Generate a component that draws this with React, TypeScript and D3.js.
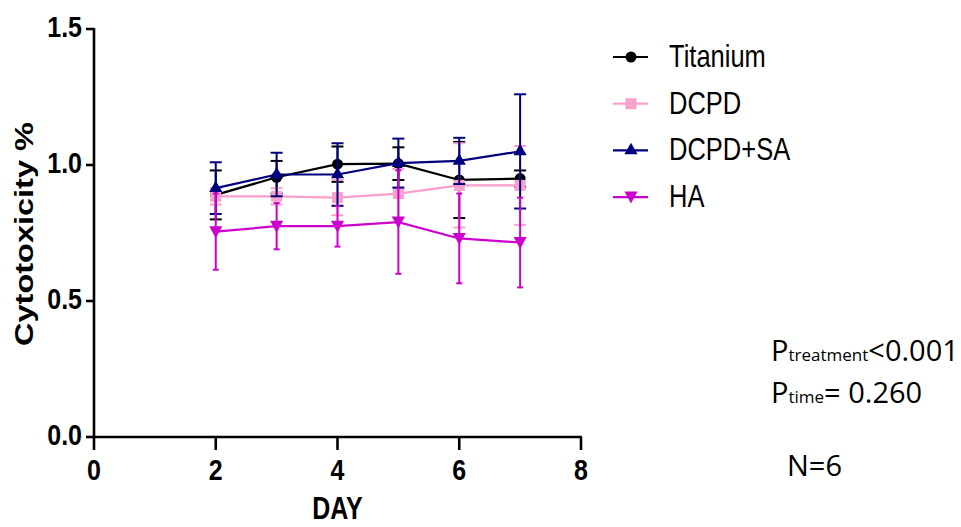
import * as d3 from "d3";
import React from "react";

// data (mean and SD per day)
const days = [2, 3, 4, 5, 6, 7];
const titaniumMean = [0.89, 0.955, 1.003, 1.005, 0.945, 0.95];
const titaniumSD = [0.09, 0.06, 0.065, 0.06, 0.14, 0.03];
const dcpdMean = [0.885, 0.885, 0.88, 0.895, 0.925, 0.925];
const dcpdSD = [0.03, 0.03, 0.065, 0.09, 0.155, 0.145];
const dcpdSaMean = [0.915, 0.965, 0.965, 1.007, 1.015, 1.05];
const dcpdSaSD = [0.095, 0.08, 0.115, 0.09, 0.085, 0.21];
const haMean = [0.755, 0.775, 0.775, 0.79, 0.73, 0.715];
const haSD = [0.14, 0.085, 0.075, 0.19, 0.165, 0.165];

const xTicks = [0, 2, 4, 6, 8];
const yTicks = [0, 0.5, 1.0, 1.5];

const series = [
  { name: "Titanium", mean: titaniumMean, sd: titaniumSD, color: "#000000", shape: "circle", cap: 12 },
  { name: "DCPD", mean: dcpdMean, sd: dcpdSD, color: "#f9a0cc", shape: "square", cap: 12 },
  { name: "DCPD+SA", mean: dcpdSaMean, sd: dcpdSaSD, color: "#00007f", shape: "triangle", cap: 12 },
  { name: "HA", mean: haMean, sd: haSD, color: "#cc00cc", shape: "triangleDown", cap: 6 },
];

const W = 961;
const H = 527;

const x = d3.scaleLinear().domain([0, 8]).range([94, 581]);
const y = d3.scaleLinear().domain([0, 1.5]).range([437, 29]);

const symbolPath = (shape: string) => {
  if (shape === "circle") return d3.symbol(d3.symbolCircle, 95)();
  if (shape === "square") return d3.symbol(d3.symbolSquare, 121)();
  if (shape === "triangle") return d3.symbol(d3.symbolTriangle, 75)();
  return "M-6.5,-5.5L6.5,-5.5L0,6.5Z";
};

const Marker = ({ shape, color, cx, cy }: any) => (
  <path d={symbolPath(shape) || ""} transform={`translate(${cx},${cy})`} fill={color} />
);

const App = () => {
  const line = d3.line<number>().x((_, i) => x(days[i])).y((d) => y(d));
  const tickFont = "'Liberation Sans', Arial, sans-serif";

  return (
    <svg width={W} height={H} style={{ position: "absolute", left: 0, top: 0, background: "#fff" }}>
      <rect width={W} height={H} fill="#fff" />

      {/* y axis */}
      <line x1={x(0)} x2={x(0)} y1={y(1.5) - 1} y2={y(0)} stroke="#000" strokeWidth={2.6} />
      {yTicks.map((t) => (
        <g key={"yt" + t}>
          <line x1={x(0) - 8} x2={x(0)} y1={y(t)} y2={y(t)} stroke="#000" strokeWidth={2.6} />
          <text
            transform={`translate(${x(0) - 12},${y(t) + 8}) scale(1,1.15)`}
            textAnchor="end"
            fontFamily={tickFont}
            fontWeight="bold"
            fontSize={25}
          >
            {t.toFixed(1)}
          </text>
        </g>
      ))}

      {/* x axis */}
      <line x1={x(0) - 1} x2={x(8) + 1} y1={y(0)} y2={y(0)} stroke="#000" strokeWidth={2.6} />
      {xTicks.map((t) => (
        <g key={"xt" + t}>
          <line x1={x(t)} x2={x(t)} y1={y(0)} y2={y(0) + 13} stroke="#000" strokeWidth={2.6} />
          <text
            transform={`translate(${x(t)},${y(0) + 43}) scale(1,1.15)`}
            textAnchor="middle"
            fontFamily={tickFont}
            fontWeight="bold"
            fontSize={25}
          >
            {t}
          </text>
        </g>
      ))}

      <text
        transform={`translate(${x(4)},${519}) scale(1,1.22)`}
        textAnchor="middle"
        fontFamily={tickFont}
        fontWeight="bold"
        fontSize={25}
      >
        DAY
      </text>
      <text
        transform={`translate(33,234) rotate(-90) scale(1.3,1)`}
        textAnchor="middle"
        fontFamily={tickFont}
        fontWeight="bold"
        fontSize={25}
      >
        Cytotoxicity %
      </text>

      {/* data */}
      {series.map((s) => (
        <g key={s.name}>
          {s.mean.map((m, i) => {
            const cx = x(days[i]);
            const top = y(m + s.sd[i]);
            const bot = y(m - s.sd[i]);
            return (
              <g key={i} stroke={s.color} strokeWidth={2}>
                <line x1={cx} x2={cx} y1={top} y2={bot} />
                <line x1={cx - s.cap / 2} x2={cx + s.cap / 2} y1={top} y2={top} />
                <line x1={cx - s.cap / 2} x2={cx + s.cap / 2} y1={bot} y2={bot} />
              </g>
            );
          })}
          <path d={line(s.mean) || ""} fill="none" stroke={s.color} strokeWidth={2.2} />
          {s.mean.map((m, i) => (
            <Marker key={"m" + i} shape={s.shape} color={s.color} cx={x(days[i])} cy={y(m)} />
          ))}
        </g>
      ))}

      {/* legend */}
      {series.map((s, i) => {
        const ly = 57 + i * 46.7;
        return (
          <g key={"lg" + s.name}>
            <line x1={613} x2={648} y1={ly} y2={ly} stroke={s.color} strokeWidth={2.2} />
            <Marker shape={s.shape} color={s.color} cx={631} cy={ly} />
            <text
              transform={`translate(669,${ly + 10}) scale(1,1.26)`}
              fontFamily={tickFont}
              fontSize={25.5}
            >
              {s.name}
            </text>
          </g>
        );
      })}

      {/* statistics note */}
      <g fontFamily="'Open Sans', 'Noto Sans', sans-serif" fill="#000">
        <text x={771} y={361} fontSize={29}>
          P<tspan fontSize={17}>treatment</tspan>&lt;0.001
        </text>
        <text x={771} y={403} fontSize={29}>
          P<tspan fontSize={17}>time</tspan>= 0.260
        </text>
        <text x={787} y={476} fontSize={29}>
          N=6
        </text>
      </g>
    </svg>
  );
};

export default App;
